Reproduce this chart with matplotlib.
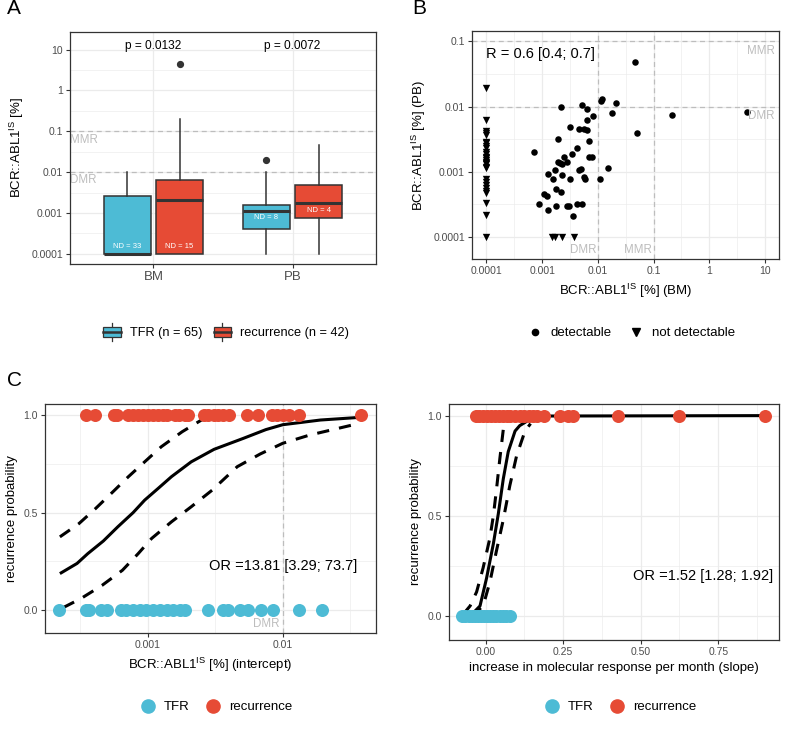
import matplotlib
matplotlib.use("Agg")
import matplotlib.pyplot as plt
import numpy as np
from matplotlib.legend_handler import HandlerBase
from matplotlib.patches import Rectangle, Patch
from matplotlib.lines import Line2D

plt.rcParams['font.family'] = ['Liberation Sans', 'DejaVu Sans']
plt.rcParams['mathtext.fontset'] = 'custom'
plt.rcParams['mathtext.rm'] = 'Liberation Sans'
plt.rcParams['mathtext.it'] = 'Liberation Sans:italic'

BLUE = '#4DBBD5'
RED = '#E64B35'
DARK = '#333333'
REF = '#BDBDBD'

# ---- panel A: boxplot summaries (BCR::ABL1 IS %) ----
sites = ['BM', 'PB']
tfr_q1 = [0.0001, 0.00041]
tfr_med = [0.0001, 0.0011]
tfr_q3 = [0.0026, 0.0016]
tfr_lo = [0.0001, 0.0001]
tfr_hi = [0.01, 0.01]
tfr_out = [[], [0.0195]]
rec_q1 = [0.0001, 0.00075]
rec_med = [0.0021, 0.0018]
rec_q3 = [0.0065, 0.0047]
rec_lo = [0.0001, 0.0001]
rec_hi = [0.2, 0.047]
rec_out = [[4.4], []]
tfr_nd = ['ND = 33', 'ND = 8']
rec_nd = ['ND = 15', 'ND = 4']
tfr_nd_y = [0.000148, 0.00076]
rec_nd_y = [0.000148, 0.00114]
pvals = ['p = 0.0132', 'p = 0.0072']

# ---- panel B: BM vs PB ----
det_bm = [0.046, 4.8, 0.21, 0.051, 0.021, 0.018, 0.012, 0.0112, 0.0022, 0.0051,
          0.0063, 0.0083, 0.0065, 0.0032, 0.0046, 0.0056, 0.0065, 0.0019, 0.0068, 0.0043,
          0.00072, 0.0034, 0.0025, 0.0068, 0.0079, 0.0019, 0.0021, 0.0028, 0.0023, 0.015,
          0.0017, 0.0045, 0.0049, 0.00126, 0.0023, 0.0056, 0.0059, 0.00155, 0.0032, 0.0107,
          0.0018, 0.0022, 0.00107, 0.0012, 0.00089, 0.0018, 0.0028, 0.003, 0.00126, 0.0042,
          0.0051, 0.0035]
det_pb = [0.049, 0.0083, 0.0074, 0.0039, 0.0115, 0.0081, 0.0132, 0.012, 0.0100, 0.0107,
          0.0093, 0.0071, 0.0062, 0.0049, 0.0045, 0.0045, 0.0043, 0.0032, 0.0030, 0.0023,
          0.0020, 0.0019, 0.0017, 0.0017, 0.0017, 0.0014, 0.00135, 0.0014, 0.0013, 0.00115,
          0.00107, 0.00105, 0.0011, 0.00093, 0.00089, 0.00083, 0.00076, 0.00076, 0.00078, 0.00078,
          0.00054, 0.00048, 0.00045, 0.00042, 0.00032, 0.0003, 0.0003, 0.0003, 0.00026, 0.00032,
          0.00032, 0.00021]
nd_pb = [0.0195, 0.0063, 0.0042, 0.0039, 0.0037, 0.0029, 0.0028, 0.0025, 0.0023, 0.002,
         0.0019, 0.0017, 0.0016, 0.0015, 0.0014, 0.00135, 0.0013, 0.0012, 0.00115, 0.00076,
         0.0007, 0.00063, 0.00056, 0.0005, 0.00047, 0.00033, 0.00022, 0.0001]
nd_bm = [0.0015, 0.0017, 0.0023, 0.0037]

# ---- panel C left: intercept ----
int_rec = [0.00035, 0.00041, 0.00056, 0.00059, 0.00072, 0.00078, 0.00085, 0.00093, 0.001, 0.0011,
           0.0012, 0.0013, 0.0014, 0.0016, 0.0017, 0.0019, 0.002, 0.0026, 0.0028, 0.0031,
           0.0033, 0.0036, 0.004, 0.0054, 0.0066, 0.0083, 0.0091, 0.01, 0.0112, 0.0132, 0.038]
int_tfr = [0.00022, 0.00035, 0.00037, 0.00045, 0.0005, 0.00063, 0.00069, 0.00078, 0.00087, 0.00098,
           0.0011, 0.00123, 0.00138, 0.00155, 0.00174, 0.0019, 0.0028, 0.0036, 0.0039, 0.0048,
           0.0055, 0.0069, 0.0085, 0.0132, 0.0195]
fit_int_x = [0.000224, 0.0003, 0.00036, 0.00047, 0.0006, 0.00078, 0.00095, 0.0012, 0.0015, 0.0021,
             0.0031, 0.0051, 0.0075, 0.01, 0.019, 0.038]
fit_int_p = [0.188, 0.24, 0.29, 0.355, 0.427, 0.5, 0.564, 0.625, 0.684, 0.76,
             0.824, 0.88, 0.925, 0.95, 0.974, 0.988]
upr_int_x = [0.000224, 0.00031, 0.00041, 0.00055, 0.00072, 0.00095, 0.00126, 0.0018, 0.0025, 0.003]
upr_int_p = [0.376, 0.444, 0.52, 0.605, 0.684, 0.76, 0.837, 0.914, 0.974, 0.985]
lwr_int_x = [0.000237, 0.00032, 0.00046, 0.00065, 0.00085, 0.00107, 0.0015, 0.0021, 0.003,
             0.0046, 0.0068, 0.01, 0.0158, 0.033]
lwr_int_p = [0.014, 0.06, 0.128, 0.205, 0.29, 0.368, 0.453, 0.53, 0.615,
             0.735, 0.80, 0.855, 0.897, 0.949]

# ---- panel C right: slope ----
slp_rec = [-0.031, -0.02, -0.008, 0.004, 0.016, 0.03, 0.042, 0.055, 0.068, 0.08, 0.095, 0.11,
           0.125, 0.14, 0.152, 0.165, 0.188, 0.24, 0.267, 0.283, 0.428, 0.623, 0.90]
slp_tfr = [-0.077, -0.065, -0.055, -0.045, -0.035, -0.025, -0.015, -0.005, 0.005, 0.015,
           0.025, 0.035, 0.045, 0.055, 0.065, 0.078]
fit_slp_x = [-0.061, -0.04, -0.018, 0.003, 0.025, 0.041, 0.057, 0.073, 0.095, 0.11, 0.127, 0.14, 0.16, 0.2, 0.9]
fit_slp_p = [0.0, 0.015, 0.05, 0.188, 0.36, 0.51, 0.684, 0.82, 0.923, 0.95, 0.966, 0.98, 0.99, 0.998, 1.0]
upr_slp_x = [-0.072, -0.05, -0.029, -0.008, 0.014, 0.025, 0.035, 0.046, 0.057, 0.066]
upr_slp_p = [0.009, 0.05, 0.12, 0.24, 0.39, 0.50, 0.63, 0.786, 0.93, 0.975]
lwr_slp_x = [-0.045, -0.008, 0.014, 0.035, 0.057, 0.078, 0.1, 0.127, 0.145]
lwr_slp_p = [0.0, 0.05, 0.17, 0.325, 0.48, 0.65, 0.80, 0.923, 0.96]

IS_LABEL = r'BCR::ABL1$^{\mathrm{IS}}$ [%]'

W, H = 787, 733
fig = plt.figure(figsize=(W / 100, H / 100), dpi=100)


def add_ax(l, t, r, b):
    return fig.add_axes([l / W, 1 - b / H, (r - l) / W, (b - t) / H])


def theme_bw(ax):
    for s in ax.spines.values():
        s.set_color(DARK)
        s.set_linewidth(0.9)
    ax.grid(which='major', color='#EBEBEB', lw=0.9)
    ax.grid(which='minor', color='#EBEBEB', lw=0.45)
    ax.set_axisbelow(True)
    ax.tick_params(which='major', length=3, width=0.8, color=DARK,
                   labelsize=7.5, labelcolor='#4D4D4D', pad=2)
    ax.tick_params(which='minor', length=0)


def log_ticks(axis, ticks, labels, minor):
    axis.set_ticks(ticks, labels)
    axis.set_ticks(minor, minor=True)
    axis.set_minor_formatter(matplotlib.ticker.NullFormatter())


class BoxKey(HandlerBase):
    def create_artists(self, legend, orig_handle, xdescent, ydescent,
                       width, height, fontsize, trans):
        x0, y0 = -xdescent, -ydescent
        cx = x0 + width / 2
        return [
            Line2D([cx, cx], [y0 - 0.4 * height, y0 + 1.4 * height], color=DARK, lw=0.9, transform=trans),
            Rectangle((x0, y0), width, height, facecolor=orig_handle.get_facecolor(),
                      edgecolor=DARK, lw=0.9, transform=trans),
            Line2D([x0, x0 + width], [y0 + height / 2] * 2, color=DARK, lw=1.8, transform=trans),
        ]


# ================= A =================
axA = add_ax(70, 32, 376, 264)
theme_bw(axA)
axA.set_yscale('log')
pos = np.arange(1, len(sites) + 1)
off, bw = 0.1875, 0.3375
for vals, shift, col in [((tfr_q1, tfr_med, tfr_q3, tfr_lo, tfr_hi, tfr_out), -off, BLUE),
                         ((rec_q1, rec_med, rec_q3, rec_lo, rec_hi, rec_out), off, RED)]:
    q1, med, q3, lo, hi, out = vals
    stats = [dict(q1=q1[i], med=med[i], q3=q3[i], whislo=lo[i], whishi=hi[i], fliers=out[i])
             for i in range(len(sites))]
    axA.bxp(stats, positions=pos + shift, widths=bw, patch_artist=True, showcaps=False,
            boxprops=dict(facecolor=col, edgecolor=DARK, lw=1.1),
            medianprops=dict(color=DARK, lw=2.2),
            whiskerprops=dict(color=DARK, lw=1.1),
            flierprops=dict(marker='o', markerfacecolor=DARK, markeredgecolor=DARK, markersize=4.2),
            zorder=3)
for i in range(len(sites)):
    axA.text(pos[i] - off, tfr_nd_y[i], tfr_nd[i], color='white', fontsize=5.5, ha='center', va='center', zorder=5)
    axA.text(pos[i] + off, rec_nd_y[i], rec_nd[i], color='white', fontsize=5.5, ha='center', va='center', zorder=5)
    axA.text(pos[i], 12.2, pvals[i], fontsize=8.6, ha='center', va='center')
for lvl, lab, ly in [(0.1, 'MMR', 0.061), (0.01, 'DMR', 0.0063)]:
    axA.axhline(lvl, color=REF, lw=0.9, dashes=(4, 3), zorder=2)
    axA.text(0.4, ly, lab, color=REF, fontsize=8.3, ha='left', va='center')
axA.set_xlim(0.4, 2.6)
axA.set_ylim(10 ** -4.25, 10 ** 1.43)
axA.set_xticks(pos, sites)
axA.tick_params(axis='x', labelsize=9.5)
axA.xaxis.grid(True, which='major', color='#EBEBEB', lw=0.9)
log_ticks(axA.yaxis, [0.0001, 0.001, 0.01, 0.1, 1, 10], ['0.0001', '0.001', '0.01', '0.1', '1', '10'],
          [10 ** (e + 0.5) for e in range(-4, 1)])
axA.set_ylabel(IS_LABEL, fontsize=9.5)
fig.legend([Patch(facecolor=BLUE), Patch(facecolor=RED)], ['TFR (n = 65)', 'recurrence (n = 42)'],
           handler_map={Patch: BoxKey()}, loc='center', bbox_to_anchor=(226 / W, 1 - 333 / H),
           ncol=2, frameon=False, fontsize=9.2, handlelength=1.35, handleheight=0.8,
           handletextpad=0.7, columnspacing=0.9)

# ================= B =================
axB = add_ax(472, 31, 779, 259)
theme_bw(axB)
axB.set_xscale('log')
axB.set_yscale('log')
for lvl in [0.1, 0.01]:
    axB.axhline(lvl, color=REF, lw=0.9, dashes=(4, 3), zorder=2)
    axB.axvline(lvl, color=REF, lw=0.9, dashes=(4, 3), zorder=2)
axB.scatter(det_bm, det_pb, s=22, marker='o', color='black', lw=0, zorder=3)
axB.scatter([0.0001] * len(nd_pb), nd_pb, s=28, marker='v', color='black', lw=0, zorder=3)
axB.scatter(nd_bm, [0.0001] * len(nd_bm), s=28, marker='v', color='black', lw=0, zorder=3)
axB.text(0.0001, 0.064, 'R = 0.6 [0.4; 0.7]', fontsize=10.5, ha='left', va='center')
axB.text(10 ** 1.17, 10 ** -1.14, 'MMR', color=REF, fontsize=8.3, ha='right', va='center')
axB.text(10 ** 1.17, 10 ** -2.14, 'DMR', color=REF, fontsize=8.3, ha='right', va='center')
axB.text(0.0093, 10 ** -4.2, 'DMR', color=REF, fontsize=8.3, ha='right', va='center')
axB.text(0.093, 10 ** -4.2, 'MMR', color=REF, fontsize=8.3, ha='right', va='center')
axB.set_xlim(10 ** -4.26, 10 ** 1.25)
axB.set_ylim(10 ** -4.34, 10 ** -0.84)
log_ticks(axB.xaxis, [0.0001, 0.001, 0.01, 0.1, 1, 10], ['0.0001', '0.001', '0.01', '0.1', '1', '10'],
          [10 ** (e + 0.5) for e in range(-4, 1)])
log_ticks(axB.yaxis, [0.0001, 0.001, 0.01, 0.1], ['0.0001', '0.001', '0.01', '0.1'],
          [10 ** (e + 0.5) for e in range(-4, -1)])
axB.set_xlabel(IS_LABEL + ' (BM)', fontsize=9.5)
axB.set_ylabel(IS_LABEL + ' (PB)', fontsize=9.5)
fig.legend([Line2D([], [], marker='o', ls='', color='black', markersize=4.5),
            Line2D([], [], marker='v', ls='', color='black', markersize=5.5)],
           ['detectable', 'not detectable'], loc='center', bbox_to_anchor=(631 / W, 1 - 333 / H),
           ncol=2, frameon=False, fontsize=9.5, handlelength=1.2, handletextpad=0.6, columnspacing=1.2)

# ================= C left =================
CURVE = dict(color='black', lw=2.2, solid_capstyle='butt', zorder=3)
axC1 = add_ax(45, 404, 376, 633)
theme_bw(axC1)
axC1.set_xscale('log')
axC1.axvline(0.01, color=REF, lw=0.9, dashes=(4, 3), zorder=2)
axC1.text(0.0095, -0.068, 'DMR', color=REF, fontsize=8.3, ha='right', va='center')
axC1.plot(fit_int_x, fit_int_p, **CURVE)
axC1.plot(upr_int_x, upr_int_p, dashes=(4, 3.3), **CURVE)
axC1.plot(lwr_int_x, lwr_int_p, dashes=(4, 3.3), **CURVE)
axC1.scatter(int_rec, [1] * len(int_rec), s=88, color=RED, lw=0, zorder=4)
axC1.scatter(int_tfr, [0] * len(int_tfr), s=88, color=BLUE, lw=0, zorder=4)
axC1.text(0.01, 0.225, 'OR =13.81 [3.29; 73.7]', fontsize=10.5, ha='center', va='center')
axC1.set_xlim(10 ** -3.76, 10 ** -1.31)
axC1.set_ylim(-0.116, 1.056)
log_ticks(axC1.xaxis, [0.001, 0.01], ['0.001', '0.01'], [10 ** -3.5, 10 ** -2.5, 10 ** -1.5])
axC1.set_yticks([0, 0.5, 1], ['0.0', '0.5', '1.0'])
axC1.set_yticks([0.25, 0.75], minor=True)
axC1.set_xlabel(IS_LABEL + ' (intercept)', fontsize=9.5)
axC1.set_ylabel('recurrence probability', fontsize=9.5)

# ================= C right =================
axC2 = add_ax(449, 404, 779, 640)
theme_bw(axC2)
axC2.plot(fit_slp_x, fit_slp_p, **CURVE)
axC2.plot(upr_slp_x, upr_slp_p, dashes=(4, 3.3), **CURVE)
axC2.plot(lwr_slp_x, lwr_slp_p, dashes=(4, 3.3), **CURVE)
axC2.scatter(slp_rec, [1] * len(slp_rec), s=88, color=RED, lw=0, zorder=4)
axC2.scatter(slp_tfr, [0] * len(slp_tfr), s=88, color=BLUE, lw=0, zorder=4)
axC2.text(0.70, 0.2, 'OR =1.52 [1.28; 1.92]', fontsize=10.5, ha='center', va='center')
axC2.set_xlim(-0.118, 0.946)
axC2.set_ylim(-0.12, 1.058)
axC2.set_xticks([0, 0.25, 0.5, 0.75], ['0.00', '0.25', '0.50', '0.75'])
axC2.set_xticks([0.125, 0.375, 0.625, 0.875], minor=True)
axC2.set_yticks([0, 0.5, 1], ['0.0', '0.5', '1.0'])
axC2.set_yticks([0.25, 0.75], minor=True)
axC2.set_xlabel('increase in molecular response per month (slope)', fontsize=9.5)
axC2.set_ylabel('recurrence probability', fontsize=9.5)

for cx in [216, 620]:
    fig.legend([Line2D([], [], marker='o', ls='', color=BLUE, markersize=9.5),
                Line2D([], [], marker='o', ls='', color=RED, markersize=9.5)],
               ['TFR', 'recurrence'], loc='center', bbox_to_anchor=(cx / W, 1 - 707 / H),
               ncol=2, frameon=False, fontsize=9.5, handlelength=1.2, handletextpad=0.6,
               columnspacing=1.2)

for lab, x, y in [('A', 7, 9), ('B', 412, 9), ('C', 7, 380)]:
    fig.text(x / W, 1 - y / H, lab, fontsize=15, ha='left', va='center')

fig.savefig('out.png', dpi=100)
